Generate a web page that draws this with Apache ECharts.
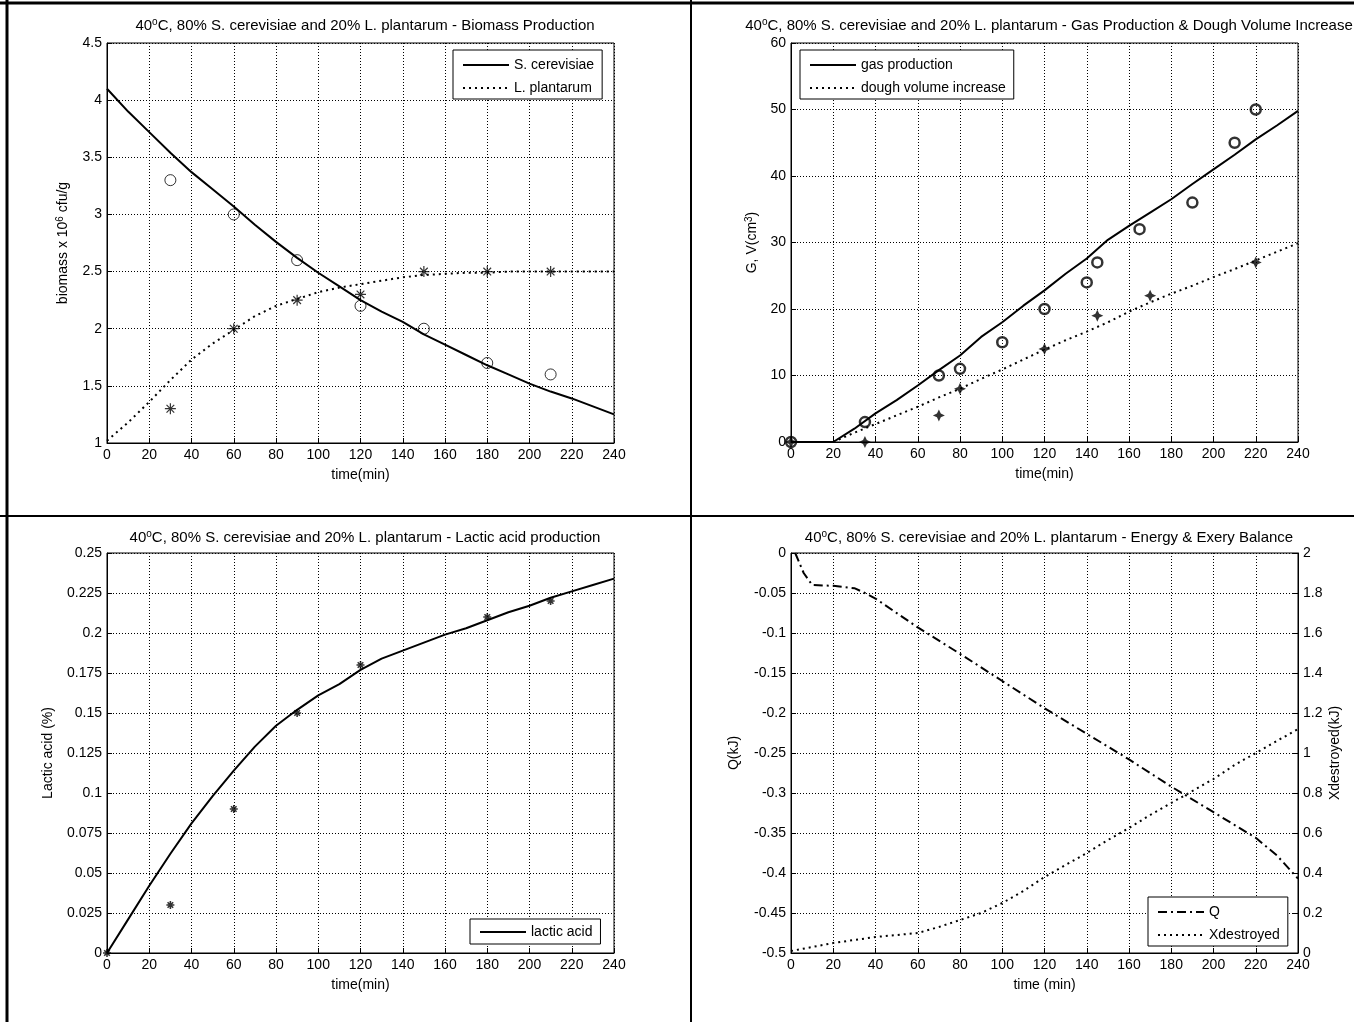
<!DOCTYPE html>
<html>
<head>
<meta charset="utf-8">
<script src="https://cdn.jsdelivr.net/npm/echarts@6/dist/echarts.min.js"></script>
<style>
  html, body { margin: 0; padding: 0; background: #fff; }
  #chart { width: 1354px; height: 1022px; }
</style>
</head>
<body>
<div id="chart"></div>
<script>
// ---- data ----
const fitTime = [0, 10, 20, 30, 40, 50, 60, 70, 80, 90, 100, 110, 120, 130, 140, 150, 160, 170, 180, 190, 200, 210, 220, 230, 240]

// biomass (x 10^6 cfu/g)
const cerevisiaeFit = [4.1, 3.9, 3.72, 3.54, 3.37, 3.22, 3.07, 2.91, 2.76, 2.62, 2.49, 2.37, 2.25, 2.15, 2.06, 1.95, 1.86, 1.77, 1.68, 1.6, 1.52, 1.45, 1.39, 1.32, 1.25]
const plantarumFit = [1.02, 1.18, 1.36, 1.55, 1.73, 1.87, 1.99, 2.11, 2.2, 2.26, 2.32, 2.36, 2.39, 2.42, 2.45, 2.47, 2.48, 2.49, 2.49, 2.5, 2.5, 2.5, 2.5, 2.5, 2.5]
const biomassTime = [30, 60, 90, 120, 150, 180, 210]
const cerevisiaeExp = [3.3, 3.0, 2.6, 2.2, 2.0, 1.7, 1.6]
const plantarumExp = [1.3, 2.0, 2.25, 2.3, 2.5, 2.5, 2.5]

// gas production & dough volume (cm3)
const gasTime = [0, 20, 30, 40, 50, 60, 70, 80, 90, 100, 110, 120, 130, 140, 150, 160, 170, 180, 190, 200, 210, 220, 230, 240]
const gasFit = [0, 0, 2.0, 4.3, 6.3, 8.5, 10.8, 13.0, 15.8, 18.0, 20.5, 22.8, 25.3, 27.6, 30.4, 32.5, 34.5, 36.5, 38.8, 41.0, 43.2, 45.5, 47.6, 49.8]
const doughTime = [20, 30, 40, 50, 60, 70, 80, 90, 100, 110, 120, 130, 140, 150, 160, 170, 180, 190, 200, 210, 220, 230, 240]
const doughFit = [0, 1.4, 2.7, 4.0, 5.3, 6.7, 8.0, 9.5, 10.9, 12.4, 13.9, 15.3, 16.6, 18.0, 19.6, 21.0, 22.3, 23.5, 24.8, 26.0, 27.3, 28.6, 29.9]
const gasExpTime = [0, 35, 70, 80, 100, 120, 140, 145, 165, 190, 210, 220]
const gasExp = [0, 3, 10, 11, 15, 20, 24, 27, 32, 36, 45, 50]
const doughExpTime = [0, 35, 70, 80, 120, 145, 170, 220]
const doughExp = [0, 0, 4, 8, 14, 19, 22, 27]

// lactic acid (%)
const lacticFit = [0, 0.021, 0.042, 0.062, 0.081, 0.098, 0.114, 0.129, 0.142, 0.152, 0.161, 0.168, 0.177, 0.184, 0.189, 0.194, 0.199, 0.203, 0.208, 0.213, 0.217, 0.222, 0.226, 0.23, 0.234]
const lacticTime = [0, 30, 60, 90, 120, 180, 210]
const lacticExp = [0, 0.03, 0.09, 0.15, 0.18, 0.21, 0.22]

// energy & exergy balance (kJ)
const qTime = [2, 6, 10, 20, 30, 35, 40, 60, 80, 100, 120, 140, 160, 180, 200, 220, 230, 240]
const qFit = [0, -0.025, -0.04, -0.041, -0.044, -0.05, -0.057, -0.093, -0.126, -0.16, -0.194, -0.226, -0.258, -0.292, -0.324, -0.356, -0.378, -0.407]
const xDestroyed = [0.01, 0.03, 0.05, 0.065, 0.08, 0.09, 0.1, 0.13, 0.165, 0.2, 0.25, 0.31, 0.38, 0.44, 0.5, 0.565, 0.625, 0.69, 0.75, 0.81, 0.87, 0.94, 1.0, 1.06, 1.12]

const pairs = (xs, ys) => xs.map((x, i) => [x, ys[i]])

// ---- styling helpers ----
const FONT = 'Liberation Sans, Arial, sans-serif'
const TITLE_PREFIX = '40{sup|o}C, 80% S. cerevisiae and 20% L. plantarum - '
const ASTERISK = 'path://M5,0V10M0,5H10M1.5,1.5L8.5,8.5M1.5,8.5L8.5,1.5'
const STAR4 = 'path://M5,0L6.6,3.4L10,5L6.6,6.6L5,10L3.4,6.6L0,5L3.4,3.4Z'
const DOT = [2, 4]
const DASHDOT = [9, 4, 2, 4]

const supStyle = { fontSize: 10, fontFamily: FONT, color: '#000', padding: [0, 0, 7, 0] }

const grids = [
  { left: 107, top: 43, width: 507, height: 400 },
  { left: 791, top: 43, width: 507, height: 399 },
  { left: 107, top: 553, width: 507, height: 400 },
  { left: 791, top: 553, width: 507, height: 400 }
]

function xAxisFor(idx, name) {
  return {
    type: 'value', gridIndex: idx, min: 0, max: 240, interval: 20,
    name: name, nameLocation: 'middle', nameGap: 25,
    nameTextStyle: { color: '#000', fontSize: 14, fontFamily: FONT },
    axisLine: { show: true, onZero: false, lineStyle: { color: '#000', width: 1 } },
    axisTick: { show: true, inside: true, length: 5, lineStyle: { color: '#000' } },
    axisLabel: { color: '#000', fontSize: 14, fontFamily: FONT, margin: 5 },
    splitLine: { show: true, lineStyle: { color: '#000', type: [1, 2], width: 1 } }
  }
}

function yAxisFor(idx, min, max, interval, name, gap, extra) {
  return Object.assign({
    type: 'value', gridIndex: idx, min: min, max: max, interval: interval,
    name: name, nameLocation: 'middle', nameGap: gap, nameRotate: 90,
    nameTextStyle: { color: '#000', fontSize: 14, fontFamily: FONT, rich: { sup: supStyle } },
    axisLine: { show: true, onZero: false, lineStyle: { color: '#000', width: 1 } },
    axisTick: { show: true, inside: true, length: 5, lineStyle: { color: '#000' } },
    axisLabel: { color: '#000', fontSize: 14, fontFamily: FONT, margin: 5 },
    splitLine: { show: true, lineStyle: { color: '#000', type: [1, 2], width: 1 } }
  }, extra || {})
}

function titleFor(cx, top, text) {
  return {
    text: TITLE_PREFIX + text, left: cx, top: top, textAlign: 'center',
    textStyle: { color: '#000', fontSize: 15, fontWeight: 'normal', fontFamily: FONT, rich: { sup: supStyle } }
  }
}

function legendFor(names, left, top, pad) {
  return {
    data: names, orient: 'vertical', left: left, top: top,
    itemWidth: 46, itemHeight: 14, itemGap: 9,
    padding: pad,
    borderColor: '#000', borderWidth: 1, backgroundColor: '#fff',
    itemStyle: { color: 'rgba(0,0,0,0)', borderWidth: 0, opacity: 0 },
    textStyle: { color: '#000', fontSize: 14, fontFamily: FONT },
    selectedMode: false
  }
}

function fitLine(name, xi, yi, data, type) {
  return {
    name: name, type: 'line', xAxisIndex: xi, yAxisIndex: yi, data: data,
    symbol: 'none', smooth: false,
    lineStyle: { color: '#000', width: 2, type: type },
    itemStyle: { color: '#000' }
  }
}

function markers(name, xi, yi, data, symbol, size, style) {
  return {
    name: name, type: 'scatter', xAxisIndex: xi, yAxisIndex: yi, data: data,
    symbol: symbol, symbolSize: size, itemStyle: style, z: 3
  }
}

const openCircle = { color: 'rgba(0,0,0,0)', borderColor: '#000', borderWidth: 1 }
const thinStar = { color: 'rgba(0,0,0,0)', borderColor: '#000', borderWidth: 1.2 }

const chart = echarts.init(document.getElementById('chart'))

chart.setOption({
  animation: false,
  backgroundColor: '#fff',
  textStyle: { fontFamily: FONT },
  title: [
    titleFor(360, 12, 'Biomass Production'),
    titleFor(1044, 12, 'Gas Production & Dough Volume Increase'),
    titleFor(360, 524, 'Lactic acid production'),
    titleFor(1044, 524, 'Energy & Exery Balance')
  ],
  legend: [
    legendFor(['S. cerevisiae', 'L. plantarum'], 453, 50, [8, 8, 4, 9]),
    legendFor(['gas production', 'dough volume increase'], 800, 50, [8, 8, 4, 9]),
    legendFor(['lactic acid'], 470, 919, [6, 8, 5, 9]),
    legendFor(['Q', 'Xdestroyed'], 1148, 897, [8, 8, 4, 9])
  ],
  grid: grids.map(g => Object.assign({ show: true, borderColor: '#000', borderWidth: 1, backgroundColor: 'transparent' }, g)),
  xAxis: [
    xAxisFor(0, 'time(min)'),
    xAxisFor(1, 'time(min)'),
    xAxisFor(2, 'time(min)'),
    xAxisFor(3, 'time (min)')
  ],
  yAxis: [
    yAxisFor(0, 1, 4.5, 0.5, 'biomass x 10{sup|6} cfu/g', 35),
    yAxisFor(1, 0, 60, 10, 'G, V(cm{sup|3})', 30),
    yAxisFor(2, 0, 0.25, 0.025, 'Lactic acid (%)', 52),
    yAxisFor(3, -0.5, 0, 0.05, 'Q(kJ)', 50),
    yAxisFor(3, 0, 2, 0.2, 'Xdestroyed(kJ)', 30, {
      position: 'right', splitLine: { show: false },
      axisTick: { show: true, inside: true, length: 5, lineStyle: { color: '#000' } }
    })
  ],
  series: [
    fitLine('S. cerevisiae', 0, 0, pairs(fitTime, cerevisiaeFit), 'solid'),
    fitLine('L. plantarum', 0, 0, pairs(fitTime, plantarumFit), DOT),
    markers('S. cerevisiae exp', 0, 0, pairs(biomassTime, cerevisiaeExp), 'circle', 11, openCircle),
    markers('L. plantarum exp', 0, 0, pairs(biomassTime, plantarumExp), ASTERISK, 11, thinStar),

    fitLine('gas production', 1, 1, pairs(gasTime, gasFit), 'solid'),
    fitLine('dough volume increase', 1, 1, pairs(doughTime, doughFit), DOT),
    markers('gas exp', 1, 1, pairs(gasExpTime, gasExp), 'circle', 10, { color: 'rgba(0,0,0,0)', borderColor: '#000', borderWidth: 2.5 }),
    markers('dough exp', 1, 1, pairs(doughExpTime, doughExp), STAR4, 12, { color: '#000' }),

    fitLine('lactic acid', 2, 2, pairs(fitTime, lacticFit), 'solid'),
    markers('lactic exp', 2, 2, pairs(lacticTime, lacticExp), ASTERISK, 8, { color: 'rgba(0,0,0,0)', borderColor: '#000', borderWidth: 1.6 }),

    fitLine('Q', 3, 3, pairs(qTime, qFit), DASHDOT),
    fitLine('Xdestroyed', 3, 4, pairs(fitTime, xDestroyed), DOT)
  ],
  graphic: [
    // figure frame and panel separators
    { type: 'line', shape: { x1: 0, y1: 3, x2: 1354, y2: 3 }, style: { stroke: '#000', lineWidth: 3 } },
    { type: 'line', shape: { x1: 7, y1: 0, x2: 7, y2: 1022 }, style: { stroke: '#000', lineWidth: 3 } },
    { type: 'line', shape: { x1: 691, y1: 0, x2: 691, y2: 1022 }, style: { stroke: '#000', lineWidth: 2 } },
    { type: 'line', shape: { x1: 0, y1: 516, x2: 1354, y2: 516 }, style: { stroke: '#000', lineWidth: 2 } }
  ]
})
</script>
</body>
</html>
